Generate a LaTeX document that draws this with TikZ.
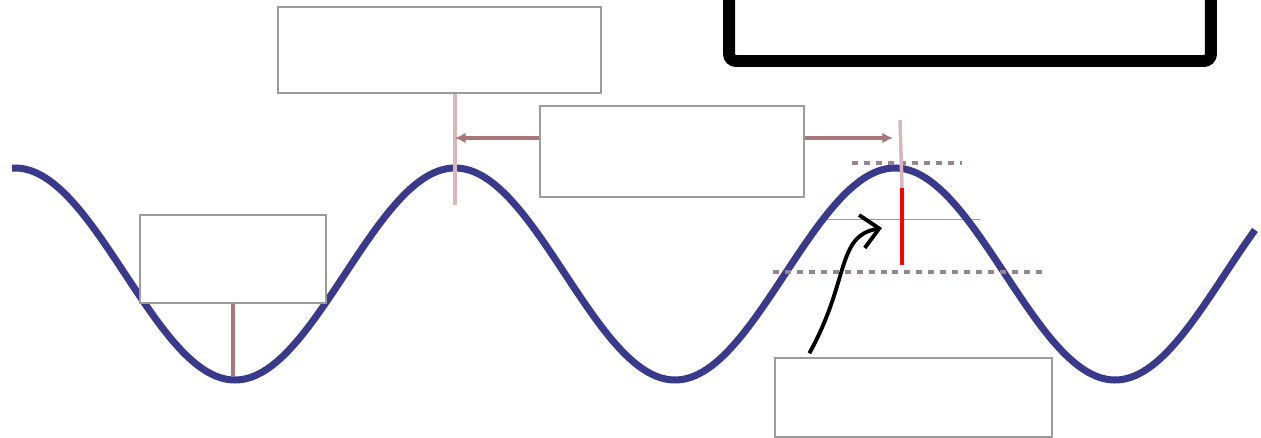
\documentclass[tikz,border=0pt]{standalone}
\usepackage{tikz}
\usetikzlibrary{arrows.meta,positioning,calc}
\definecolor{wavecol}{RGB}{58,58,140}
\definecolor{marker}{RGB}{165,118,122}
\definecolor{guide}{RGB}{150,132,145}
\definecolor{boxline}{RGB}{155,155,155}
\definecolor{faint}{RGB}{215,182,188}

\begin{document}
\begin{tikzpicture}[x=0.02cm, y=-0.02cm,
    labelbox/.style={draw=boxline, line width=0.8pt, fill=white, inner sep=0pt},
    ptr/.style={-{Latex[length=6pt,width=6pt]}, line width=2pt, draw=marker},
    guideline/.style={dash pattern=on 3.4pt off 3.4pt, line width=2pt, draw=guide},
    faintline/.style={line width=2pt, draw=faint}]

  \useasboundingbox (0,0) rectangle (1261,438);

  % Blank strip under the second crest
  \node[fill=white, inner sep=0pt, minimum width=3.2cm, minimum height=0.72cm] (gap) at (900,238) {};
  \draw[boxline, line width=0.5pt] (gap.north west) -- (gap.north east);

  % Wave
  \draw[wavecol, line width=4pt, domain=12:1255, samples=240, smooth]
    plot (\x, {274-106*cos((\x-15)/440*360)});

  % Points on the wave
  \coordinate (crestA) at (455,138);
  \coordinate (crestAlow) at (455,205);
  \coordinate (crestB) at (893,138);
  \coordinate (troughA) at (233,376);
  \coordinate (peakTop) at (902,188);
  \coordinate (peakBot) at (902,265);
  \coordinate (gapmark) at (882,228);

  % Guide lines at the second crest
  \draw[guideline] (852,163) -- (962,163);
  \draw[guideline] (773,272) -- (1043,272);
  \draw[faintline] (900,120) -- (peakTop);

  % Empty label boxes
  \node[labelbox, minimum width=6.46cm, minimum height=1.72cm] (top) at (439.5,50) {};
  \node[labelbox, minimum width=5.28cm, minimum height=1.82cm] (mid) at (672,151.5) {};
  \node[labelbox, minimum width=3.72cm, minimum height=1.76cm] (left) at (233,259) {};
  \node[labelbox, minimum width=5.54cm, minimum height=1.58cm] (bot) at (913.5,397.5) {};

  % Title frame
  \node[draw=black, line width=6.8pt, rounded corners=4pt, fill=white,
        minimum width=9.64cm, minimum height=1.82cm] (title) at (970,15.5) {};

  % Wavelength and amplitude markers
  \draw[faintline] (top.south -| crestA) -- (crestAlow);
  \draw[ptr] (mid.west |- crestA) -- (crestA);
  \draw[ptr] (mid.east |- crestB) -- (crestB);
  \draw[line width=2pt, draw=marker] (left.south) -- (troughA);
  \draw[line width=2pt, red] (peakTop) -- (peakBot);

  % Pointer from the bottom box
  \draw[-{Straight Barb[length=10pt,width=19pt]}, line width=2.2pt]
    ([xshift=0.7cm,yshift=0.08cm]bot.north west) .. controls (850,280) and (836,236) .. (gapmark);

\end{tikzpicture}
\end{document}
